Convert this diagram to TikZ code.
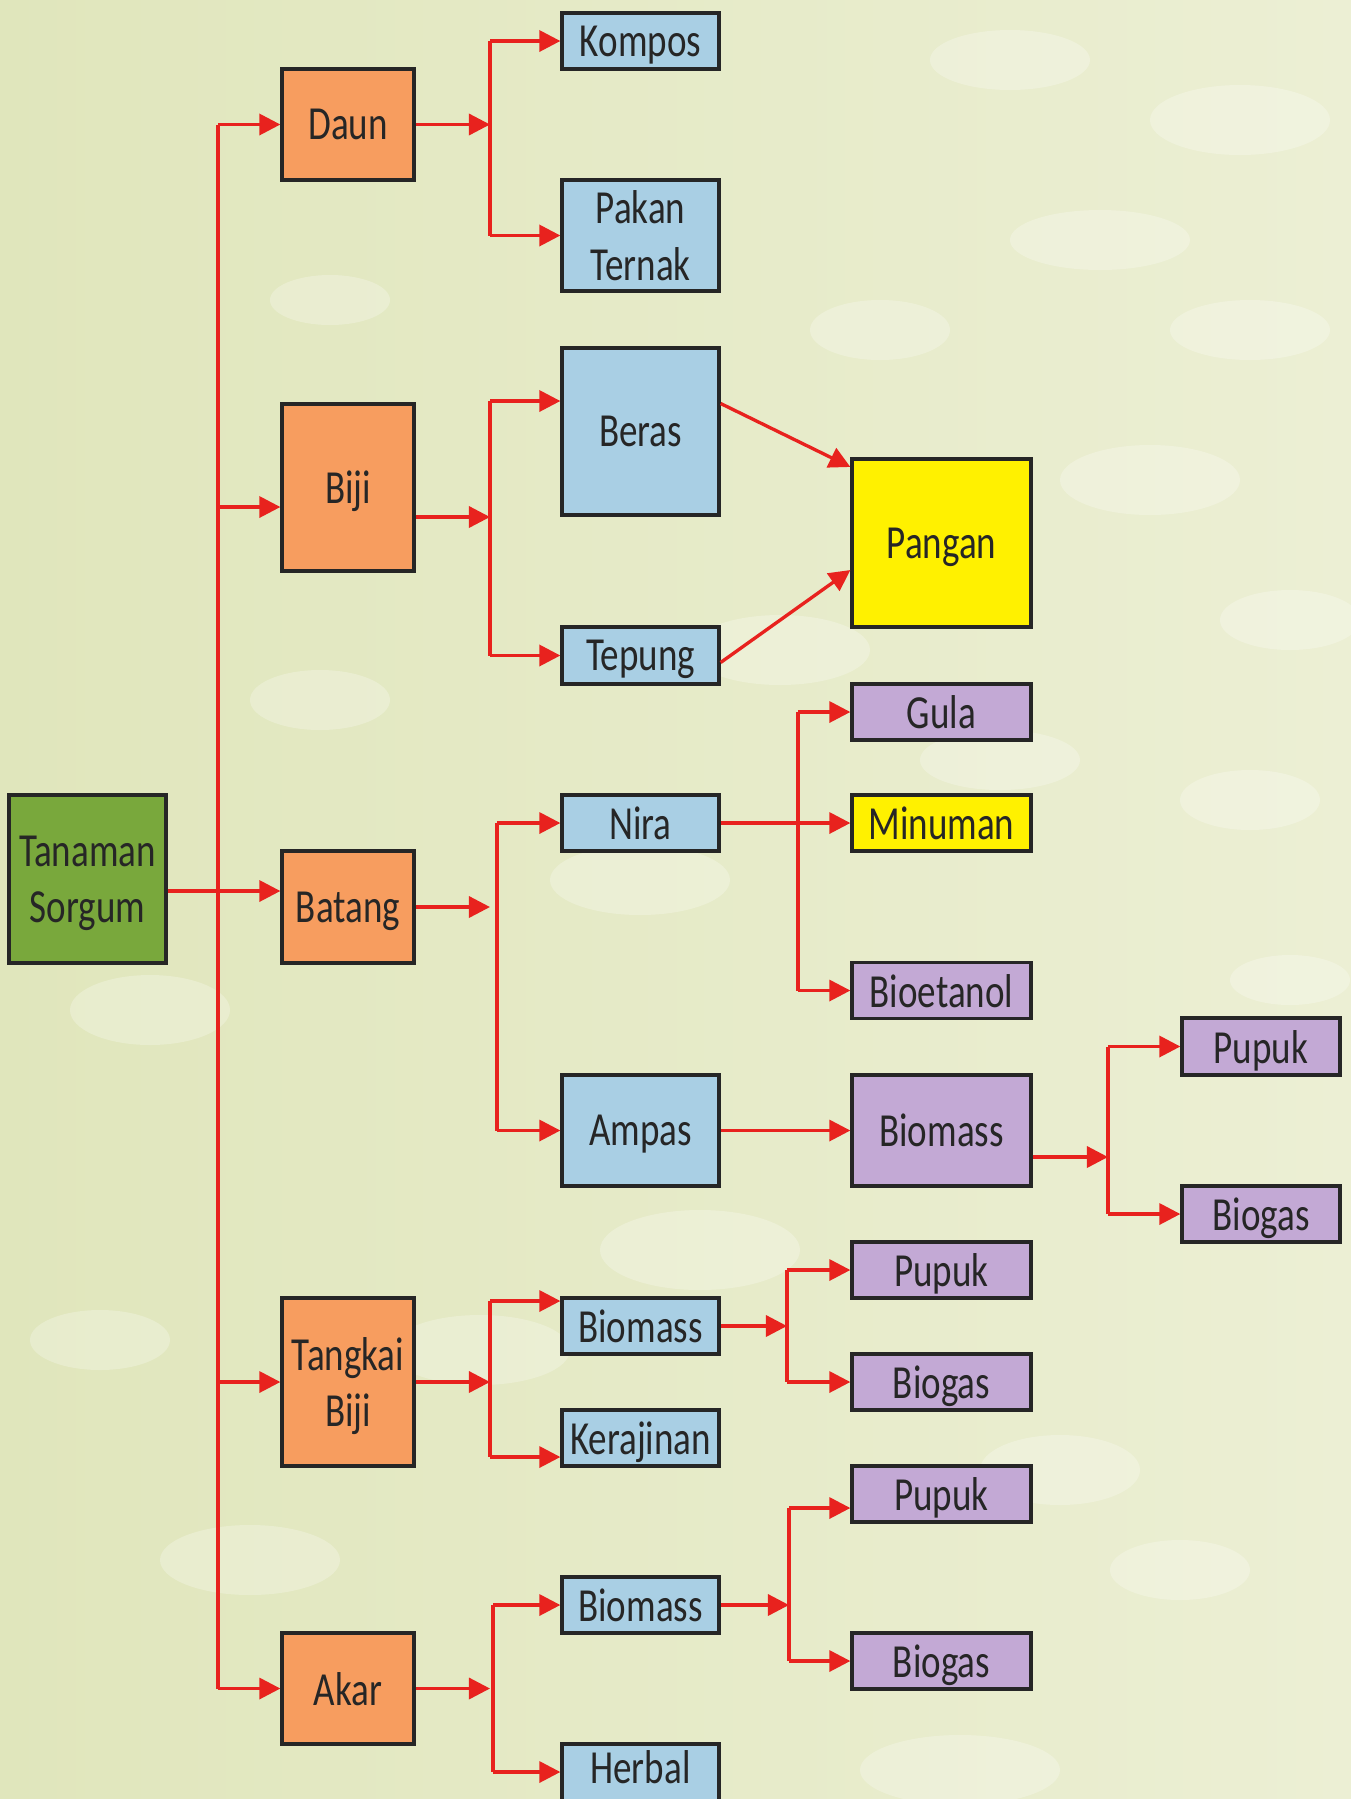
\documentclass[tikz,border=0pt]{standalone}
\usepackage{fontspec}
\setmainfont{Carlito}[FakeStretch=0.78]
\usepackage{xcolor}
\usetikzlibrary{arrows.meta}

\definecolor{bgleft}{HTML}{E0E6BC}
\definecolor{bgright}{HTML}{ECEFD4}
\definecolor{flowred}{HTML}{E8221E}
\definecolor{sorgumgreen}{HTML}{79A83C}
\definecolor{partorange}{HTML}{F79D5F}
\definecolor{prodblue}{HTML}{A9CFE4}
\definecolor{foodyellow}{HTML}{FFF100}
\definecolor{energypurple}{HTML}{C3A9D5}

\begin{document}
\begin{tikzpicture}[x=0.01cm, y=-0.01cm, every node/.style={font=\fontsize{13.5}{16}\selectfont}]
  \tikzstyle{box}=[rectangle,draw=black!85,line width=0.9pt,inner sep=1pt,align=center,text=black!85,text depth=0pt]
  \tikzstyle{part}=[box,fill=partorange,minimum width=1.32cm]
  \tikzstyle{prod}=[box,fill=prodblue,minimum width=1.57cm]
  \tikzstyle{endp}=[box,fill=energypurple,minimum width=1.79cm]
  \tikzstyle{flow}=[draw=flowred,line width=0.95pt]
  \tikzstyle{arr}=[-{Triangle[length=6pt,width=6pt]}]

  % background
  \useasboundingbox (0,0) rectangle (1351,1799);
  \clip (0,0) rectangle (1351,1799);
  \shade[left color=bgleft, right color=bgright] (0,0) rectangle (1351,1799);
  \foreach \bx/\by/\rx/\ry in {1010/60/80/30, 1240/120/90/35, 1100/240/90/30, 880/330/70/30,
      1250/330/80/30, 1150/480/90/35, 1290/620/70/30, 780/650/90/35, 1000/760/80/30,
      1250/800/70/30, 640/880/90/35, 320/700/70/30, 150/1010/80/35, 700/1250/100/40,
      480/1350/90/35, 1060/1470/80/35, 250/1560/90/35, 1180/1570/70/30, 960/1770/100/35,
      100/1340/70/30, 330/300/60/25, 1290/980/60/25}
    \fill[white,opacity=0.25] (\bx,\by) ellipse [x radius=\rx, y radius=\ry];

  % first level
  \node[box,fill=sorgumgreen,minimum width=1.57cm,minimum height=1.68cm] (sorgum) at (87.5,879) {Tanaman\\Sorgum};
  \node[part,minimum height=1.11cm] (daun) at (348,124.5) {Daun};
  \node[part,minimum height=1.67cm] (biji) at (348,487.5) {Biji};
  \node[part,minimum height=1.12cm] (batang) at (348,907) {Batang};
  \node[part,minimum height=1.68cm] (tangkai) at (348,1382) {Tangkai\\Biji};
  \node[part,minimum height=1.11cm] (akar) at (348,1688.5) {Akar};

  % second level
  \node[prod,minimum height=0.56cm] (kompos) at (640.5,41) {Kompos};
  \node[prod,minimum height=1.11cm] (pakan) at (640.5,235.5) {Pakan\\Ternak};
  \node[prod,minimum height=1.67cm] (beras) at (640.5,431.5) {Beras};
  \node[prod,minimum height=0.57cm] (tepung) at (640.5,655.5) {Tepung};
  \node[prod,minimum height=0.56cm] (nira) at (640.5,823) {Nira};
  \node[prod,minimum height=1.11cm] (ampas) at (640.5,1130.5) {Ampas};
  \node[prod,minimum height=0.56cm] (biomassA) at (640.5,1326) {Biomass};
  \node[prod,minimum height=0.56cm] (kerajinan) at (640.5,1438) {Kerajinan};
  \node[prod,minimum height=0.56cm] (biomassB) at (640.5,1605) {Biomass};
  \node[prod,minimum height=0.70cm,text depth=0.24cm] (herbal) at (640.5,1779) {Herbal};

  % third level
  \node[box,fill=foodyellow,minimum width=1.79cm,minimum height=1.68cm] (pangan) at (941.5,543) {Pangan};
  \node[endp,minimum height=0.56cm] (gula) at (941.5,712) {Gula};
  \node[box,fill=foodyellow,minimum width=1.79cm,minimum height=0.56cm] (minuman) at (941.5,823) {Minuman};
  \node[endp,minimum height=0.56cm] (bioetanol) at (941.5,990.5) {Bioetanol};
  \node[endp,minimum height=1.11cm] (biomassC) at (941.5,1130.5) {Biomass};
  \node[endp,minimum height=0.56cm] (pupukA) at (941.5,1270) {Pupuk};
  \node[endp,minimum height=0.56cm] (biogasA) at (941.5,1382) {Biogas};
  \node[endp,minimum height=0.56cm] (pupukB) at (941.5,1494) {Pupuk};
  \node[endp,minimum height=0.56cm] (biogasB) at (941.5,1661) {Biogas};
  \node[endp,minimum width=1.58cm,minimum height=0.57cm] (pupukC) at (1261,1046.5) {Pupuk};
  \node[endp,minimum width=1.58cm,minimum height=0.56cm] (biogasC) at (1261,1214) {Biogas};

  % trunk from the plant
  \coordinate (ttop) at (218,124.5);
  \coordinate (tbot) at (218,1688.5);
  \coordinate (tsorgum) at (218,891);
  \coordinate (tbiji) at (218,507);
  \draw[flow] (ttop) -- (tbot);
  \draw[flow,arr] (sorgum.east |- tsorgum) -- (batang.west |- tsorgum);
  \draw[flow,arr] (ttop) -- (daun.west);
  \draw[flow,arr] (tbiji) -- (biji.west |- tbiji);
  \draw[flow,arr] (tbot |- tangkai) -- (tangkai.west);
  \draw[flow,arr] (tbot) -- (akar.west);

  % daun
  \coordinate (jdaun) at (490,124.5);
  \draw[flow,arr] (daun.east) -- (jdaun);
  \draw[flow] (jdaun |- kompos) -- (jdaun |- pakan);
  \draw[flow,arr] (jdaun |- kompos) -- (kompos.west);
  \draw[flow,arr] (jdaun |- pakan) -- (pakan.west);

  % biji
  \coordinate (jbiji) at (490,517);
  \coordinate (jberas) at (490,401);
  \draw[flow,arr] (biji.east |- jbiji) -- (jbiji);
  \draw[flow] (jberas) -- (jberas |- tepung);
  \draw[flow,arr] (jberas) -- (beras.west |- jberas);
  \draw[flow,arr] (jberas |- tepung) -- (tepung.west);
  \draw[flow,arr] ([yshift=0.28cm]beras.east) -- ([yshift=0.76cm]pangan.west);
  \draw[flow,arr] ([yshift=-0.07cm]tepung.east) -- ([yshift=-0.27cm]pangan.west);

  % batang
  \coordinate (jbatang) at (490,907);
  \coordinate (vbatang) at (497,907);
  \draw[flow,arr] (batang.east) -- (jbatang);
  \draw[flow] (vbatang |- nira) -- (vbatang |- ampas);
  \draw[flow,arr] (vbatang |- nira) -- (nira.west);
  \draw[flow,arr] (vbatang |- ampas) -- (ampas.west);

  % nira
  \coordinate (jnira) at (798,823);
  \draw[flow,arr] (nira.east) -- (minuman.west);
  \draw[flow] (jnira |- gula) -- (jnira |- bioetanol);
  \draw[flow,arr] (jnira |- gula) -- (gula.west);
  \draw[flow,arr] (jnira |- bioetanol) -- (bioetanol.west);

  % ampas
  \coordinate (jbiomassC) at (1108,1157);
  \draw[flow,arr] (ampas.east) -- (biomassC.west);
  \draw[flow,arr] (biomassC.east |- jbiomassC) -- (jbiomassC);
  \draw[flow] (jbiomassC |- pupukC) -- (jbiomassC |- biogasC);
  \draw[flow,arr] (jbiomassC |- pupukC) -- (pupukC.west);
  \draw[flow,arr] (jbiomassC |- biogasC) -- (biogasC.west);

  % tangkai biji
  \coordinate (jtangkai) at (490,1382);
  \coordinate (jbioA) at (490,1301);
  \coordinate (jkera) at (490,1457);
  \draw[flow,arr] (tangkai.east) -- (jtangkai);
  \draw[flow] (jbioA) -- (jkera);
  \draw[flow,arr] (jbioA) -- (biomassA.west |- jbioA);
  \draw[flow,arr] (jkera) -- (kerajinan.west |- jkera);
  \coordinate (jbiomassA) at (787,1326);
  \draw[flow,arr] (biomassA.east) -- (jbiomassA);
  \draw[flow] (jbiomassA |- pupukA) -- (jbiomassA |- biogasA);
  \draw[flow,arr] (jbiomassA |- pupukA) -- (pupukA.west);
  \draw[flow,arr] (jbiomassA |- biogasA) -- (biogasA.west);

  % akar
  \coordinate (jakar) at (490,1688.5);
  \coordinate (vakar) at (493,1688.5);
  \coordinate (jherbal) at (493,1772);
  \draw[flow,arr] (akar.east) -- (jakar);
  \draw[flow] (vakar |- biomassB) -- (jherbal);
  \draw[flow,arr] (vakar |- biomassB) -- (biomassB.west);
  \draw[flow,arr] (jherbal) -- (herbal.west |- jherbal);
  \coordinate (jbiomassB) at (789,1605);
  \coordinate (jpupukB) at (789,1508);
  \draw[flow,arr] (biomassB.east) -- (jbiomassB);
  \draw[flow] (jpupukB) -- (jbiomassB |- biogasB);
  \draw[flow,arr] (jpupukB) -- (pupukB.west |- jpupukB);
  \draw[flow,arr] (jbiomassB |- biogasB) -- (biogasB.west);
\end{tikzpicture}
\end{document}
